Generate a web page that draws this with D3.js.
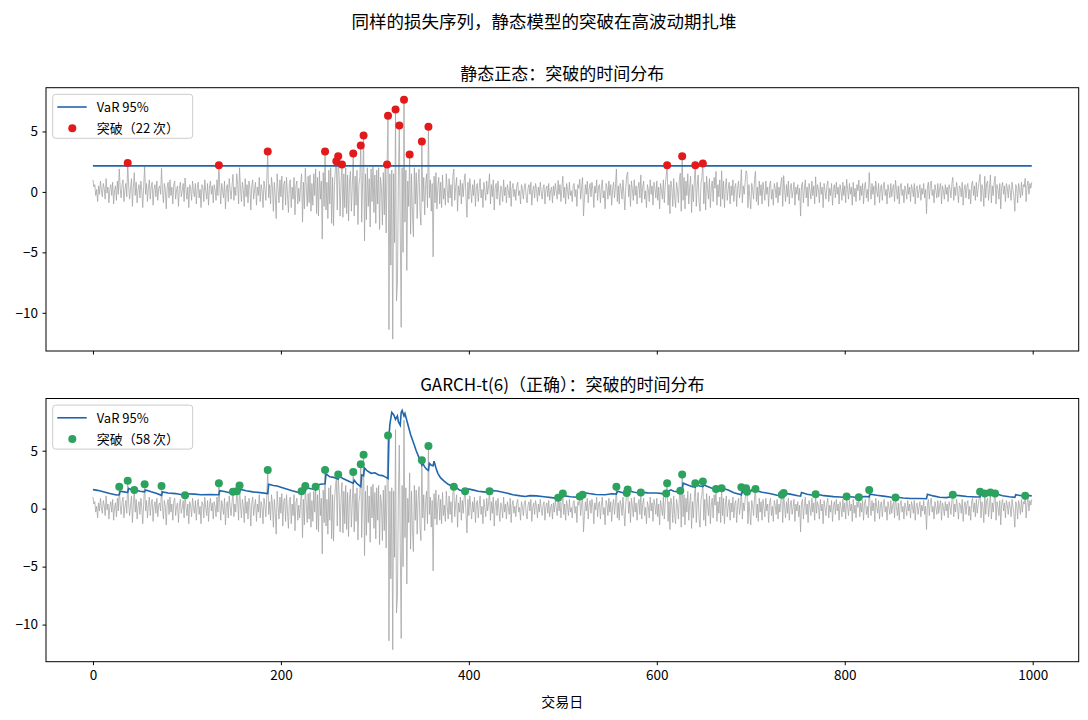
<!DOCTYPE html>
<html><head><meta charset="utf-8">
<script src="https://cdn.jsdelivr.net/npm/d3@7"></script>
<style>
body{margin:0;background:#fff}
svg{display:block}
text{font-family:"Noto Sans CJK SC","Noto Sans",sans-serif;fill:#000}
</style>
</head><body>
<svg id="c" width="1088" height="720"></svg>
<script>
// ---- data ----
const loss = [
1.0,0.4,0.6,-0.3,0.2,-0.8,0.5,-0.2,0.9,0.1,
-0.4,0.7,0.3,-0.6,1.1,-0.1,0.4,-0.9,0.2,0.6,
-0.3,0.8,-1.0,0.1,0.5,-0.7,0.9,-0.2,1.9,0.3,
-0.5,0.6,1.0,-0.8,0.2,0.7,-0.4,2.4,0.5,-0.6,
0.3,1.1,-1.2,0.4,1.6,-0.3,0.8,-0.9,0.2,0.6,
-0.5,0.9,0.1,-1.3,0.5,2.1,-0.2,0.7,-0.8,0.3,
1.0,-0.6,0.4,0.8,-1.1,0.2,0.6,-0.4,0.9,-0.7,
0.3,0.5,-0.2,1.95,0.1,-0.9,0.7,0.2,-1.4,0.4,
0.8,-0.5,1.0,-0.3,0.4,-1.0,0.6,0.9,-0.6,0.2,
0.5,-1.2,0.3,0.8,-0.4,0.1,0.7,-0.8,1.15,0.2,
-0.6,0.4,-1.3,0.6,0.2,-0.7,0.9,0.1,-0.4,0.7,
-1.0,0.3,0.8,-0.5,0.2,-1.3,0.6,0.4,-0.8,1.0,
0.1,-0.6,0.7,-1.1,0.3,0.9,-0.2,0.5,-0.9,0.6,
0.2,-0.7,1.0,-0.3,2.2,0.4,-1.0,0.7,0.1,-0.5,
0.9,-1.4,0.3,0.6,-0.8,1.1,0.2,-0.6,0.5,1.45,
-0.7,0.4,-0.3,1.5,0.6,-1.0,2.0,0.3,-0.8,0.8,
0.2,-1.2,1.1,-0.4,0.6,-0.9,0.9,0.3,-1.5,0.5,
1.0,-0.6,0.2,0.8,-1.1,0.4,-0.3,1.2,-0.8,0.6,
0.1,-1.3,0.9,0.3,-0.7,1.1,3.34,-0.5,0.6,-1.0,
1.2,0.4,-1.6,0.8,-0.3,-2.2,1.5,0.2,-0.9,1.0,
-0.4,1.3,-1.5,0.6,0.9,-1.1,1.2,-0.2,-1.7,0.7,
1.0,-1.3,0.4,-0.6,1.2,-1.9,0.5,0.9,-1.0,0.3,
-0.8,0.6,1.5,-2.5,0.8,-1.4,1.95,0.4,-1.2,1.3,
-0.9,1.4,-1.6,0.7,-1.1,1.5,-0.3,1.9,-1.8,1.2,
-2.0,1.7,-0.6,0.9,-3.9,1.6,-1.2,3.34,-1.5,0.8,
-2.2,1.8,-1.0,2.0,-2.6,1.2,-2.8,0.6,1.9,2.54,
-1.5,2.95,1.2,-2.0,0.8,2.26,-2.1,1.5,-1.3,2.0,
-1.8,1.4,-2.4,0.9,1.7,-1.6,0.5,3.17,-2.0,1.3,
-1.1,1.8,-2.7,0.6,1.2,3.83,-2.5,1.0,4.66,-4.05,
1.5,-2.3,2.0,-1.2,1.1,-2.9,1.9,-0.8,2.1,-1.7,
1.4,-2.6,1.8,-1.0,2.0,-3.1,1.2,0.4,-2.75,1.6,
-1.9,2.0,-3.4,2.26,6.31,-11.4,1.5,-6.06,1.8,-12.17,
1.5,-4.2,6.81,-9.0,-7.6,1.2,5.49,-3.0,-11.2,2.0,
-5.0,7.63,-2.5,1.8,-6.5,0.9,-1.2,3.09,-3.5,1.5,
-1.8,-3.7,2.0,-1.0,1.6,-2.2,0.8,1.9,-1.5,-2.75,
4.17,-0.8,1.2,-1.9,0.6,1.5,-1.3,5.4,-0.5,1.0,
-1.6,0.7,-5.37,1.3,-0.9,1.6,-1.4,0.4,1.2,-1.0,
0.8,-1.3,1.4,-0.6,0.3,-1.1,1.5,0.2,-0.9,1.1,
-0.5,0.6,-1.2,1.3,1.9,-0.7,0.4,1.2,-1.6,0.5,
-0.3,1.0,-1.0,0.7,-0.4,0.9,1.5,-0.5,-2.1,0.8,
-0.6,1.1,0.2,-0.9,0.6,-0.3,1.0,-1.2,0.4,0.7,
-0.8,0.3,1.1,-0.5,0.2,-1.3,0.8,0.1,-0.7,0.9,
-0.2,0.5,1.5,-1.0,0.6,-0.4,1.0,-1.5,0.3,0.7,
-0.6,0.9,-0.1,-1.1,0.5,0.2,-0.8,1.0,-0.3,0.4,
-0.9,0.6,0.1,-0.5,0.9,-1.2,0.3,0.7,-0.4,0.2,
-0.7,0.5,0.8,-0.3,0.1,-1.0,0.6,0.2,-0.6,0.4,
0.7,-0.4,-0.9,0.3,0.6,-0.2,0.8,-1.1,0.1,0.5,
-0.5,0.7,0.2,-0.8,0.4,-0.3,0.8,0.0,-0.6,0.3,
0.6,-1.0,0.2,0.5,-0.4,0.7,-0.7,0.1,0.4,-0.9,
0.5,-0.3,0.7,0.1,-0.6,0.95,-0.2,0.6,-0.8,0.3,
1.3,-0.5,0.4,-1.0,0.7,0.2,-0.6,0.8,-0.3,0.1,
-0.8,0.5,0.7,-0.4,0.2,-1.2,0.6,0.3,1.05,-0.6,
0.4,1.2,-2.0,-0.6,0.6,-0.2,0.9,-0.9,0.3,0.7,
-0.4,0.8,0.2,-1.3,0.5,-0.1,1.0,-0.7,0.4,0.6,
-0.9,0.3,1.0,-0.5,0.1,-1.4,0.7,0.4,-0.6,0.9,
-0.3,0.6,-1.1,0.2,0.8,-0.5,0.4,1.9,-0.8,0.5,
-1.0,0.7,0.3,-0.6,1.0,-0.2,-1.5,0.4,1.35,1.65,
-0.4,0.6,-1.2,0.9,0.2,-0.7,1.0,-0.3,0.5,-1.0,
0.3,0.8,-0.5,1.4,-0.9,0.4,0.9,-0.6,0.1,-1.3,
0.6,0.2,-0.8,1.0,-0.2,0.5,-1.1,0.8,0.3,-0.5,
0.9,-0.7,0.4,-1.4,0.7,0.1,-0.6,1.0,-0.9,0.5,
1.3,2.2,-1.1,0.6,-1.8,0.9,0.3,-1.2,1.1,-0.5,
-1.3,0.8,0.2,-0.9,1.0,1.55,-1.6,2.95,-0.7,1.2,
-1.4,0.9,-0.3,1.5,-1.0,0.4,1.3,-1.7,0.6,-0.8,
1.0,2.2,-1.2,0.5,1.4,-0.9,-1.6,0.7,1.2,2.35,
-1.0,0.8,-1.5,1.3,0.2,-0.6,1.1,-1.3,0.4,0.9,
-0.8,1.2,0.3,1.7,-1.1,0.6,-0.4,1.0,-1.2,1.75,
-0.6,0.9,-1.3,0.4,1.1,-0.7,0.2,0.8,-1.0,0.5,
-0.3,1.0,-0.8,0.4,0.7,-1.2,0.3,0.9,-0.5,0.2,
1.85,-0.9,0.5,-0.2,0.8,1.75,1.45,-1.3,0.6,-0.4,
-1.4,0.7,0.2,-0.6,1.0,1.7,-0.8,0.4,-1.1,0.9,
-0.3,0.6,-1.0,0.8,0.1,-0.7,0.9,-0.2,0.4,-1.2,
0.5,0.9,-0.6,0.2,-1.1,0.7,0.3,-0.5,0.8,-0.9,
0.4,-0.3,0.7,1.2,-1.2,1.35,0.2,-0.8,0.6,-0.4,
0.9,-1.0,0.3,0.7,-0.5,0.1,0.8,-1.1,0.4,-0.2,
0.6,-0.7,0.3,-2.0,0.5,0.8,-0.9,0.2,1.0,-0.5,
0.4,-1.2,0.7,0.1,-0.6,0.9,-0.3,0.5,-1.0,1.25,
-0.4,0.6,0.2,-0.9,0.8,-0.2,0.4,-1.3,0.7,0.1,
-0.6,0.5,0.9,-0.8,0.3,-0.3,0.7,-1.1,0.2,0.6,
-0.5,0.8,-0.2,0.4,-1.0,0.6,0.1,-0.7,0.8,-0.3,
0.5,-0.9,1.05,0.2,-0.6,0.7,-0.2,0.4,-1.1,0.8,
-0.4,0.3,-0.8,0.6,0.1,0.98,-0.7,0.5,-0.3,0.7,
-1.0,0.4,0.8,-0.5,0.2,-0.8,1.6,0.3,-0.6,0.7,
-0.2,0.5,-1.1,0.9,0.1,-0.4,0.7,-0.9,0.3,0.6,
-0.7,0.4,0.8,-0.3,0.2,-1.0,0.6,0.1,-0.5,0.7,
-0.4,0.3,0.6,-0.8,0.97,0.2,-0.6,0.5,-1.0,0.4,
0.7,-0.3,0.2,-0.9,0.5,0.1,-0.6,0.7,-0.2,0.4,
-0.8,0.6,0.2,-0.4,0.7,-1.0,0.3,0.5,-0.5,0.1,
0.6,-0.7,0.3,-0.2,0.7,-0.5,0.2,-1.8,0.4,0.8,
-0.6,0.5,0.9,-0.3,0.2,-0.9,0.6,0.1,-0.5,0.7,
-0.4,0.3,0.7,-1.0,0.5,0.1,-0.6,0.6,-0.2,0.4,
-0.8,0.6,0.2,-0.5,0.7,1.2,-0.7,0.4,-0.3,0.8,
0.1,-0.9,0.5,0.3,-0.4,0.8,-1.1,0.2,0.6,-0.5,
0.4,0.7,-0.6,0.2,-1.0,0.6,0.9,-0.3,0.5,-0.7,
0.8,-0.4,0.3,0.9,1.45,-0.8,0.6,0.2,-1.2,1.3,
-0.5,0.7,0.9,-0.7,0.3,1.4,-0.9,0.5,-0.3,0.8,
1.3,-1.0,0.6,0.2,-0.6,0.7,-1.4,0.4,0.8,-0.2,
0.5,-0.8,0.7,0.3,-0.5,0.6,0.1,-0.7,0.8,0.2,
-0.4,-1.6,0.6,0.3,-0.9,0.7,0.2,-0.5,0.8,-0.3,
0.6,0.4,1.12,-0.8,0.5,0.9,-0.2,0.7,0.3,0.8
];

const staticVar = 2.15;

const garchVarDays = [0,5,11,18,25,28,29,33,37,38,43,44,45,50,55,56,62,68,73,74,80,88,96,98,99,108,115,125,134,135,140,149,150,153,154,156,157,163,170,178,186,187,192,196,200,206,212,218,222,223,226,227,232,237,238,242,247,248,252,256,259,261,262,266,270,274,277,278,281,285,286,288,289,292,296,300,304,308,312,314,315,316,318,320,322,324,325,327,328,329,331,332,334,336,338,341,344,347,350,351,353,355,357,358,360,362,363,365,367,370,374,378,383,384,385,390,396,397,399,404,410,416,422,423,430,440,447,455,460,465,472,480,488,495,496,500,501,508,515,518,519,521,522,523,528,535,545,552,557,558,562,567,569,570,576,583,584,590,600,606,610,611,612,615,618,625,627,628,633,638,641,642,646,649,650,656,663,664,669,670,676,682,690,691,695,696,697,700,701,705,706,712,720,728,733,734,735,736,742,750,753,754,760,766,769,770,778,788,795,802,803,809,812,815,816,822,826,827,834,841,848,852,854,855,862,870,880,887,888,894,901,908,915,916,922,930,940,944,945,949,950,955,956,960,961,968,975,981,982,988,992,993,999];
const garchVarValues = [1.64,1.58,1.45,1.3,1.18,1.2,1.5,1.45,1.4,1.75,1.55,1.5,1.62,1.5,1.45,1.62,1.45,1.3,1.15,1.45,1.35,1.3,1.18,1.1,1.28,1.25,1.2,1.22,1.2,1.55,1.48,1.3,1.42,1.38,1.45,1.45,1.65,1.55,1.45,1.38,1.3,2.1,2.0,1.95,1.85,1.7,1.55,1.42,1.3,1.55,1.5,1.8,1.72,1.65,2.0,2.1,2.15,3.0,2.75,2.7,2.6,2.55,2.8,2.6,2.45,2.3,2.2,2.45,2.15,1.9,2.9,2.85,3.5,3.25,3.05,3.1,2.9,2.85,2.7,2.6,6.2,7.3,8.3,8.1,7.7,8.0,7.5,7.2,8.3,8.47,8.0,8.2,7.6,7.0,6.4,5.7,5.0,4.4,3.75,3.9,3.6,3.4,3.3,3.9,3.75,3.7,4.1,3.5,3.05,2.65,2.35,2.1,1.92,1.8,1.95,1.6,1.45,1.6,1.7,1.62,1.5,1.45,1.38,1.58,1.52,1.35,1.2,1.1,1.05,1.12,1.1,1.02,0.95,0.88,1.0,1.02,1.12,1.03,0.98,0.95,1.05,1.05,1.1,1.38,1.3,1.22,1.2,1.28,1.25,1.5,1.42,1.3,1.28,1.55,1.42,1.33,1.42,1.36,1.35,1.3,1.22,1.28,1.5,1.62,1.5,1.42,1.55,2.2,2.05,1.9,1.85,2.05,1.95,1.9,2.05,1.85,1.62,1.75,1.65,1.75,1.6,1.38,1.2,1.45,1.35,1.38,1.55,1.5,1.6,1.45,1.55,1.42,1.3,1.15,1.12,1.2,1.2,1.32,1.25,1.12,1.08,1.4,1.25,1.15,1.12,1.25,1.12,1.04,1.0,0.95,1.05,1.0,0.95,0.9,1.02,1.05,1.02,1.25,1.15,1.08,1.0,0.92,0.9,1.0,0.92,0.88,0.87,0.86,1.25,1.1,0.98,0.95,1.05,1.15,1.12,1.05,1.0,1.02,1.25,1.22,1.28,1.22,1.32,1.22,1.28,1.12,1.02,0.98,1.2,1.12,1.08,1.15,1.1];

const garchBreachDays = [28,37,44,55,73,98,134,149,153,156,186,222,226,237,247,261,277,285,288,314,350,357,384,396,422,495,500,518,521,557,568,569,583,610,611,625,627,641,649,663,669,690,695,696,705,733,735,769,802,815,826,854,915,944,949,955,960,992];

const xTicks = [0,200,400,600,800,1000];
const yTicks = [5,0,-5,-10];

const titles = ["静态正态：突破的时间分布","GARCH-t(6)（正确）：突破的时间分布"];
const suptitle = "同样的损失序列，静态模型的突破在高波动期扎堆";
const xLabel = "交易日";

// ---- drawing ----
const svg = d3.select("#c");
const L = 46, R = 1078.7;
const x = d3.scaleLinear().domain([-0.05*999, 999*1.05]).range([L, R]);
const fmt = d => d < 0 ? "\u2212" + Math.abs(d) : String(d);

const days = loss.map((_, i) => i);
const staticBreaches = days.filter(i => loss[i] > staticVar);
const staticLine = days.map(i => [i, staticVar]);
const garchLine = garchVarDays.map((d, i) => [d, garchVarValues[i]]);

const panels = [
  {top: 87.7, bottom: 351, title: titles[0], varLine: staticLine, breaches: staticBreaches,
   color: "#e31a1c", extra: [], showX: false},
  {top: 398.5, bottom: 661.7, title: titles[1], varLine: garchLine, breaches: garchBreachDays,
   color: "#2ca25f", extra: garchVarValues, showX: true}
];

svg.append("text").attr("x", 544).attr("y", 28).attr("text-anchor", "middle")
  .style("font-size", "17.5px").text(suptitle);

panels.forEach(p => {
  const vals = loss.concat(p.extra);
  const mn = d3.min(vals), mx = d3.max(vals), r = mx - mn;
  const y = d3.scaleLinear().domain([mn - 0.05*r, mx + 0.05*r]).range([p.bottom, p.top]);
  const g = svg.append("g");

  // loss series
  g.append("path").datum(days)
    .attr("fill", "none").attr("stroke", "#a2a2a2").attr("stroke-width", 0.75)
    .attr("d", d3.line().x(i => x(i)).y(i => y(loss[i])));
  // VaR
  g.append("path").datum(p.varLine)
    .attr("fill", "none").attr("stroke", "#2166ac").attr("stroke-width", 1.6)
    .attr("d", d3.line().x(d => x(d[0])).y(d => y(d[1])));
  // breaches
  g.selectAll("circle.b").data(p.breaches).enter().append("circle")
    .attr("cx", d => x(d)).attr("cy", d => y(loss[d])).attr("r", 4)
    .attr("fill", p.color);

  // axes
  const ya = d3.axisLeft(y).tickValues(yTicks).tickFormat(fmt).tickSize(3.5).tickPadding(4.5);
  const yg = g.append("g").attr("transform", `translate(${L},0)`).call(ya);
  const xa = d3.axisBottom(x).tickValues(xTicks).tickSize(3.5).tickPadding(5)
    .tickFormat(p.showX ? d3.format("d") : () => "");
  const xg = g.append("g").attr("transform", `translate(0,${p.bottom})`).call(xa);
  [yg, xg].forEach(a => {
    a.select(".domain").remove();
    a.selectAll("line").attr("stroke", "#000").attr("stroke-width", 1);
    a.selectAll("text").style("font-size", "13.5px")
      .style("font-family", '"Noto Sans CJK SC","Noto Sans",sans-serif');
  });
  g.append("rect").attr("x", L).attr("y", p.top).attr("width", R - L).attr("height", p.bottom - p.top)
    .attr("fill", "none").attr("stroke", "#000").attr("stroke-width", 1);

  // title
  g.append("text").attr("x", (L + R) / 2).attr("y", p.top - 7.6).attr("text-anchor", "middle")
    .style("font-size", "17px").text(p.title);

  // legend
  const lx = 52.7, ly = p.top + 6.6;
  const lg = g.append("g");
  lg.append("rect").attr("x", lx).attr("y", ly).attr("width", 140).attr("height", 44)
    .attr("rx", 3).attr("fill", "rgba(255,255,255,0.8)").attr("stroke", "#cccccc").attr("stroke-width", 1);
  lg.append("line").attr("x1", lx + 4.6).attr("x2", lx + 34).attr("y1", ly + 12.7).attr("y2", ly + 12.7)
    .attr("stroke", "#2166ac").attr("stroke-width", 1.6);
  lg.append("text").attr("x", lx + 44).attr("y", ly + 17.5).style("font-size", "13px").text("VaR 95%");
  lg.append("circle").attr("cx", lx + 19.6).attr("cy", ly + 34).attr("r", 4).attr("fill", p.color);
  lg.append("text").attr("x", lx + 44).attr("y", ly + 38.8).style("font-size", "13px")
    .text(`突破（${p.breaches.length} 次）`);
});

svg.append("text").attr("x", (L + R) / 2).attr("y", 707).attr("text-anchor", "middle")
  .style("font-size", "14px").text(xLabel);
</script>
</body></html>
